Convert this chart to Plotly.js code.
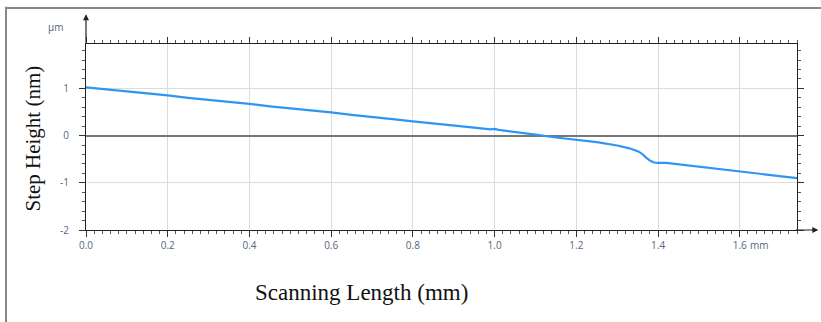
<!DOCTYPE html>
<html>
<head>
<meta charset="utf-8">
<script src="https://cdn.plot.ly/plotly-3.0.1.min.js"></script>
<style>html,body{margin:0;padding:0;background:#fff;}#chart{width:821px;height:322px;}</style>
</head>
<body>
<div id="chart"></div>
<script>
var scanLength = [0, 0.05, 0.1, 0.15, 0.2, 0.25, 0.3, 0.35, 0.4, 0.45, 0.5, 0.55, 0.6, 0.65, 0.7, 0.75, 0.8, 0.85, 0.9, 0.95, 0.99, 1.0, 1.01, 1.05, 1.1, 1.15, 1.2, 1.25, 1.3, 1.33, 1.35, 1.36, 1.37, 1.38, 1.39, 1.4, 1.42, 1.45, 1.5, 1.55, 1.6, 1.65, 1.74];
var stepHeight = [1.02, 0.98, 0.94, 0.89, 0.85, 0.80, 0.76, 0.71, 0.67, 0.62, 0.58, 0.53, 0.49, 0.44, 0.40, 0.35, 0.30, 0.26, 0.21, 0.17, 0.13, 0.14, 0.12, 0.08, 0.02, -0.04, -0.09, -0.14, -0.21, -0.27, -0.33, -0.38, -0.46, -0.53, -0.57, -0.58, -0.58, -0.61, -0.66, -0.70, -0.75, -0.80, -0.90];
var xTickVals = [0, 0.2, 0.4, 0.6, 0.8, 1.0, 1.2, 1.4, 1.6];
var xTickText = ['0.0', '0.2', '0.4', '0.6', '0.8', '1.0', '1.2', '1.4', '1.6'];
var yTickVals = [-2, -1, 0, 1];
var yTickText = ['-2', '-1', '0', '1'];

var tickFont = {family: 'Open Sans, sans-serif', size: 10, color: '#56647e'};
var serif = 'Liberation Serif, Times New Roman, serif';

var trace = {
  x: scanLength, y: stepHeight, type: 'scatter', mode: 'lines',
  line: {color: '#2f95f5', width: 2.2}, hoverinfo: 'skip'
};

var layout = {
  width: 821, height: 322,
  margin: {l: 86, r: 24, t: 44, b: 92},
  paper_bgcolor: '#fff', plot_bgcolor: '#fff',
  showlegend: false,
  xaxis: {
    range: [0, 1.74], tickmode: 'array', tickvals: xTickVals, ticktext: xTickText,
    showline: true, linecolor: '#222', linewidth: 1, mirror: 'ticks',
    ticks: 'outside', ticklen: 6, tickcolor: '#333', tickwidth: 1,
    minor: {dtick: 0.02, ticks: 'outside', ticklen: 3, tickcolor: '#555', showgrid: false},
    showgrid: true, gridcolor: '#dcdcdc', gridwidth: 1, zeroline: false,
    tickfont: tickFont, fixedrange: true
  },
  yaxis: {
    range: [-2, 1.94], tickmode: 'array', tickvals: yTickVals, ticktext: yTickText,
    showline: true, linecolor: '#222', linewidth: 1, mirror: 'ticks',
    ticks: 'outside', ticklen: 6, tickcolor: '#333', tickwidth: 1,
    minor: {dtick: 0.2, ticks: 'outside', ticklen: 3, tickcolor: '#555', showgrid: false},
    showgrid: true, gridcolor: '#dcdcdc', gridwidth: 1,
    zeroline: true, zerolinecolor: '#777', zerolinewidth: 2,
    ticklabelstandoff: 8,
    tickfont: tickFont, fixedrange: true
  },
  shapes: [
    {type: 'line', xref: 'paper', yref: 'paper', x0: -0.1125, x1: -0.1125, y0: -0.5, y1: 1.2, line: {color: '#888', width: 2}},
    {type: 'line', xref: 'paper', yref: 'paper', x0: -0.1125, x1: 1.05, y0: 1.194, y1: 1.194, line: {color: '#888', width: 2}}
  ],
  annotations: [
    {xref: 'paper', yref: 'paper', x: 0, y: 1.16, ax: 0, ay: 30, axref: 'pixel', ayref: 'pixel',
     text: '', showarrow: true, arrowhead: 2, arrowsize: 1, arrowwidth: 1.2, arrowcolor: '#222'},
    {xref: 'paper', yref: 'paper', x: 1.03, y: 0, ax: -24, ay: 0,
     text: '', showarrow: true, arrowhead: 2, arrowsize: 1, arrowwidth: 1.2, arrowcolor: '#222'},
    {xref: 'paper', yref: 'paper', x: -0.03, y: 1.09, text: 'µm', showarrow: false,
     font: tickFont, xanchor: 'right', yanchor: 'middle'},
    {xref: 'x', yref: 'paper', x: 1.62, y: 0, yshift: -15, text: 'mm', showarrow: false,
     font: tickFont, xanchor: 'left', yanchor: 'middle'},
    {xref: 'paper', yref: 'paper', x: 0.387, y: -0.335, text: 'Scanning Length (mm)', showarrow: false,
     font: {family: serif, size: 23, color: '#111'}, xanchor: 'center', yanchor: 'middle'},
    {xref: 'paper', yref: 'paper', x: -0.075, y: 0.49, text: 'Step Height (nm)', showarrow: false,
     textangle: -90, font: {family: serif, size: 21, color: '#111'}, xanchor: 'center', yanchor: 'middle'}
  ]
};

Plotly.newPlot('chart', [trace], layout, {displayModeBar: false, staticPlot: true});
</script>
</body>
</html>
